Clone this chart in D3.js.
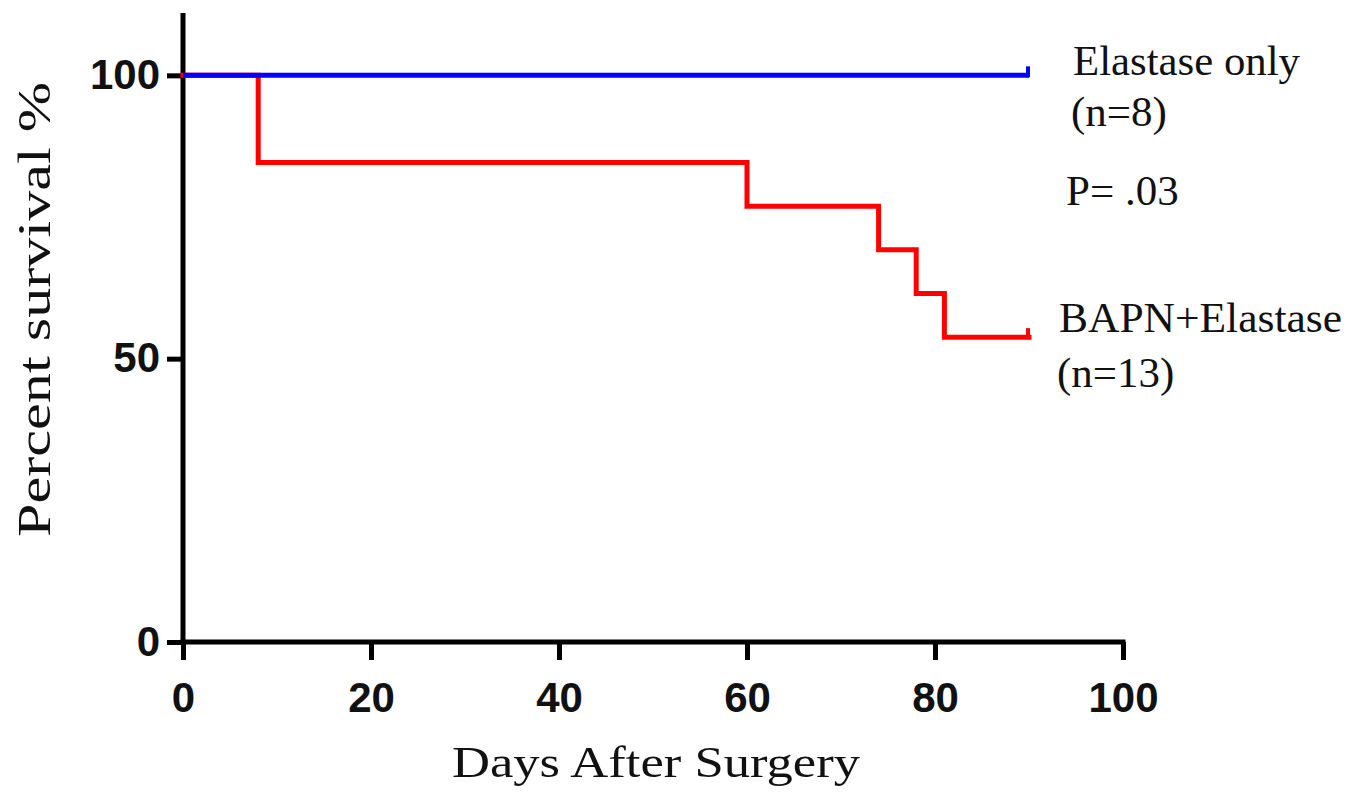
<!DOCTYPE html>
<html>
<head>
<meta charset="utf-8">
<script src="https://cdn.jsdelivr.net/npm/d3@7"></script>
<style>
  html, body { margin: 0; padding: 0; background: #fff; }
  svg { display: block; }
</style>
</head>
<body>
<svg id="chart" width="1355" height="793"></svg>
<script>
// ---- data ----
const xTicks = [0, 20, 40, 60, 80, 100];
const yTicks = [0, 50, 100];
const elastaseDays = [0, 90];
const elastaseSurvival = [100, 100];
const bapnDays = [0, 8, 60, 74, 78, 81, 90];
const bapnSurvival = [100, 84.6, 76.9, 69.2, 61.5, 53.8, 53.8];
const labels = {
  elastase: ["Elastase only", "(n=8)"],
  pval: "P= .03",
  bapn: ["BAPN+Elastase", "(n=13)"],
  xTitle: "Days After Surgery",
  yTitle: "Percent survival %"
};

// ---- layout ----
const svg = d3.select("#chart");
const x = d3.scaleLinear().domain([0, 100]).range([183, 1123]);
const y = d3.scaleLinear().domain([0, 111]).range([642, 13]);

const axisW = 5;
const serif = "'Liberation Serif', 'Times New Roman', serif";
const sans = "'Liberation Sans', Arial, sans-serif";

// X axis
const gx = svg.append("g").attr("transform", `translate(0,${y(0)})`)
  .call(d3.axisBottom(x).tickValues(xTicks).tickSize(18).tickSizeOuter(0).tickPadding(15).tickFormat(d3.format("d")));
gx.select(".domain").attr("stroke", "#000").attr("stroke-width", axisW)
  .attr("d", `M${x(0) - 2.5},0H${x(100) + 2.5}`);
gx.selectAll(".tick line").attr("stroke", "#000").attr("stroke-width", axisW);
gx.selectAll(".tick text").attr("font-family", sans).attr("font-weight", "bold")
  .attr("font-size", 42).attr("fill", "#111").attr("dy", null).attr("y", 70);

// Y axis
const gy = svg.append("g").attr("transform", `translate(${x(0)},0)`)
  .call(d3.axisLeft(y).tickValues(yTicks).tickSize(16).tickSizeOuter(0).tickPadding(8).tickFormat(d3.format("d")));
gy.select(".domain").attr("stroke", "#000").attr("stroke-width", axisW)
  .attr("d", `M0,${y(111)}V${y(0) + 2.5}`);
gy.selectAll(".tick line").attr("stroke", "#000").attr("stroke-width", axisW);
gy.selectAll(".tick text").attr("font-family", sans).attr("font-weight", "bold")
  .attr("font-size", 42).attr("fill", "#111").attr("dy", null).attr("y", 13).attr("x", -23);

// curves
const line = d3.line().curve(d3.curveStepAfter)
  .x(d => x(d[0])).y(d => y(d[1]));

const bapnPts = bapnDays.map((d, i) => [d, bapnSurvival[i]]);
const elaPts = elastaseDays.map((d, i) => [d, elastaseSurvival[i]]);

svg.append("path").datum(bapnPts).attr("d", line)
  .attr("fill", "none").attr("stroke", "#ff0000").attr("stroke-width", 5)
  .attr("stroke-linejoin", "miter").attr("stroke-linecap", "square");
svg.append("path").datum(elaPts).attr("d", line)
  .attr("fill", "none").attr("stroke", "#0000ff").attr("stroke-width", 5)
  .attr("stroke-linecap", "butt");

// censor ticks at end
const censor = [
  { d: elastaseDays[elastaseDays.length - 1], s: elastaseSurvival[elastaseSurvival.length - 1], c: "#0000ff" },
  { d: bapnDays[bapnDays.length - 1], s: bapnSurvival[bapnSurvival.length - 1], c: "#ff0000" }
];
svg.selectAll("line.censor").data(censor).enter().append("line")
  .attr("class", "censor")
  .attr("x1", d => x(d.d) - 1).attr("x2", d => x(d.d) - 1)
  .attr("y1", d => y(d.s) + 2).attr("y2", d => y(d.s) - 9)
  .attr("stroke", d => d.c).attr("stroke-width", 4);

// annotations
function txt(str, xx, yy, len, size) {
  const t = svg.append("text").attr("x", xx).attr("y", yy)
    .attr("font-family", serif).attr("font-size", size || 43).attr("fill", "#111").text(str);
  if (len) t.attr("textLength", len).attr("lengthAdjust", "spacingAndGlyphs");
  return t;
}
txt(labels.elastase[0], 1073, 75, 227);
txt(labels.elastase[1], 1071, 126);
txt(labels.pval, 1066, 205);
txt(labels.bapn[0], 1059, 332, 283);
txt(labels.bapn[1], 1057, 387);

// axis titles
txt(labels.xTitle, 452, 777, 408, 44);
svg.append("text")
  .attr("transform", `translate(50,537) rotate(-90)`)
  .attr("font-family", serif).attr("font-size", 46).attr("fill", "#111")
  .attr("textLength", 455).attr("lengthAdjust", "spacingAndGlyphs")
  .text(labels.yTitle);
</script>
</body>
</html>
